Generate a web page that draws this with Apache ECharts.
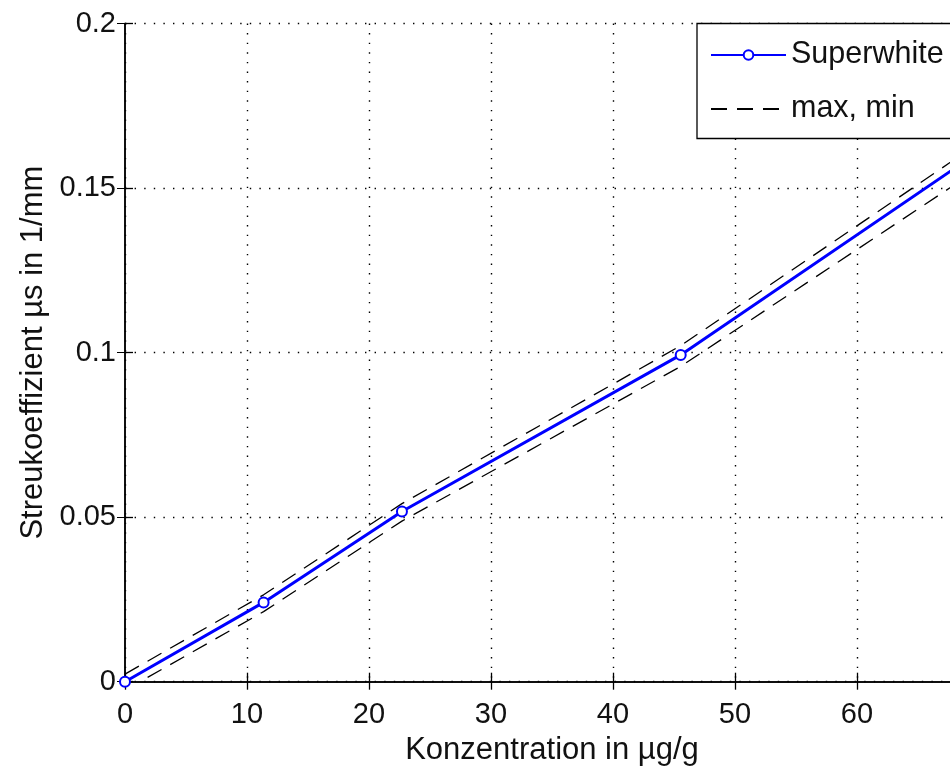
<!DOCTYPE html>
<html>
<head>
<meta charset="utf-8">
<title>Streukoeffizient Superwhite</title>
<script src="https://cdn.jsdelivr.net/npm/echarts@6/dist/echarts.min.js"></script>
<style>
  html, body { margin: 0; padding: 0; background: #fff; }
  #chart { width: 950px; height: 769px; }
</style>
</head>
<body>
<div id="chart"></div>
<script>
// Konzentration in µg/g
const concentration = [0, 11.36, 22.7, 45.55, 68.2]
// Streukoeffizient in 1/mm
const streuMean = [0, 0.0241, 0.0517, 0.0993, 0.1565]
const streuMax = [0.0023, 0.0264, 0.0541, 0.1021, 0.1592]
const streuMin = [-0.0026, 0.0213, 0.0488, 0.0958, 0.1515]

const xTicks = [0, 10, 20, 30, 40, 50, 60, 70]
const yTicks = [0, 0.05, 0.1, 0.15, 0.2]

const font = 'Liberation Sans'
const textColor = '#111'

function pairs(xs, ys) {
  return xs.map((x, i) => [x, ys[i]])
}

const chart = echarts.init(document.getElementById('chart'))

const dotted = {
  show: true,
  lineStyle: { color: '#000', width: 1.4, type: [1.4, 8.2] }
}

chart.setOption({
  animation: false,
  backgroundColor: '#fff',
  grid: {
    left: 125,
    top: 23.5,
    width: 854,
    height: 658.2,
    outerBoundsMode: 'none'
  },
  legend: {
    orient: 'vertical',
    left: 697,
    top: 23.5,
    padding: [16, 60, 14, 13],
    itemWidth: 75,
    itemHeight: 12,
    itemGap: 23,
    backgroundColor: '#fff',
    borderColor: '#000',
    borderWidth: 1.3,
    borderRadius: 0,
    textStyle: { fontFamily: font, fontSize: 30.5, color: textColor },
    data: ['Superwhite', { name: 'max, min', itemStyle: { opacity: 0 } }]
  },
  xAxis: [{
    type: 'value',
    min: xTicks[0],
    max: xTicks[xTicks.length - 1],
    interval: 10,
    name: 'Konzentration in µg/g',
    nameLocation: 'middle',
    nameGap: 52,
    nameTextStyle: { fontFamily: font, fontSize: 31, color: textColor },
    axisLine: { lineStyle: { color: '#000', width: 1.5 } },
    axisTick: { inside: true, length: 9, lineStyle: { color: '#000', width: 1.3 } },
    axisLabel: { fontFamily: font, fontSize: 29, color: textColor, margin: 19 },
    splitLine: dotted
  }, {
    type: 'value',
    position: 'top',
    min: xTicks[0],
    max: xTicks[xTicks.length - 1],
    interval: 10,
    axisLine: { show: true, lineStyle: { color: '#000', width: 1.5 } },
    axisTick: { show: true, inside: true, length: 8, lineStyle: { color: '#000', width: 1.3 } },
    axisLabel: { show: false },
    splitLine: { show: false }
  }],
  yAxis: [{
    type: 'value',
    min: yTicks[0],
    max: yTicks[yTicks.length - 1],
    interval: 0.05,
    name: 'Streukoeffizient µs in 1/mm',
    nameLocation: 'middle',
    nameGap: 76,
    nameTextStyle: { fontFamily: font, fontSize: 31, color: textColor },
    axisLine: { show: true, lineStyle: { color: '#000', width: 1.5 } },
    axisTick: { show: true, inside: true, length: 8, lineStyle: { color: '#000', width: 1.3 } },
    axisLabel: { fontFamily: font, fontSize: 29, color: textColor, margin: 9 },
    splitLine: dotted
  }, {
    type: 'value',
    position: 'right',
    min: yTicks[0],
    max: yTicks[yTicks.length - 1],
    interval: 0.05,
    axisLine: { show: true, lineStyle: { color: '#000', width: 1.5 } },
    axisTick: { show: true, inside: true, length: 8 },
    axisLabel: { show: false },
    splitLine: { show: false }
  }],
  series: [{
    name: 'max, min',
    type: 'line',
    data: pairs(concentration, streuMax),
    showSymbol: false,
    symbol: 'none',
    legendIcon: 'none',
    clip: true,
    lineStyle: { color: '#000', width: 1.3, type: [16, 10] },
    itemStyle: { color: '#000' },
    z: 2
  }, {
    name: 'max, min',
    type: 'line',
    data: pairs(concentration, streuMin),
    showSymbol: false,
    symbol: 'none',
    legendIcon: 'none',
    clip: true,
    lineStyle: { color: '#000', width: 1.3, type: [16, 10] },
    itemStyle: { color: '#000' },
    z: 2
  }, {
    name: 'Superwhite',
    type: 'line',
    data: pairs(concentration, streuMean),
    symbol: 'emptyCircle',
    symbolSize: 10,
    clip: true,
    lineStyle: { color: '#0000ff', width: 3 },
    itemStyle: { color: '#0000ff', borderColor: '#0000ff', borderWidth: 2.5 },
    z: 3
  }]
})
</script>
</body>
</html>
